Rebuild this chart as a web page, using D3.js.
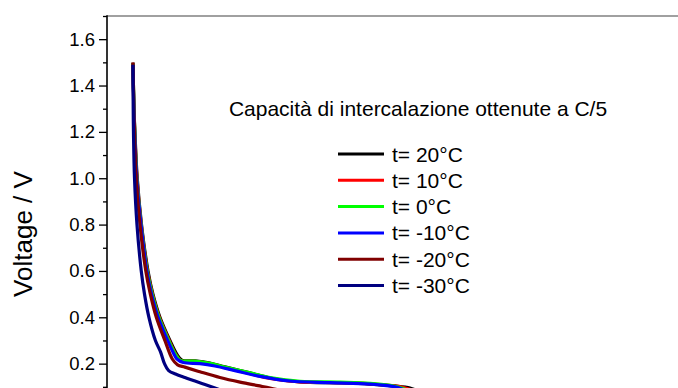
<!DOCTYPE html>
<html>
<head>
<meta charset="utf-8">
<script src="https://cdn.jsdelivr.net/npm/d3@7"></script>
<style>
  body { margin: 0; background: #fff; }
  svg { display: block; font-family: Arial, "Liberation Sans", sans-serif; }
</style>
</head>
<body>
<div id="chart"></div>
<script>
// chart data (capacity in mAh/g, voltage in V)
const labels = ["t= 20°C", "t= 10°C", "t= 0°C", "t= -10°C", "t= -20°C", "t= -30°C"];
const colors = ["#000000", "#ff0000", "#00ff00", "#0000ff", "#800000", "#000080"];

const cap20 = [0, 0.8, 1.5, 3.3, 6.6, 11.6, 15.4, 20.8, 28.5, 33.9, 37.7, 47.8, 59.3, 70.9, 90.2, 105.6, 128.7, 159.5, 182.6, 201.9, 213.5, 221];
const volt20 = [1.498, 1.3, 1.2, 1.0, 0.8, 0.6, 0.5, 0.4, 0.3, 0.24, 0.215, 0.212, 0.203, 0.186, 0.160, 0.138, 0.121, 0.117, 0.112, 0.104, 0.095, 0.078];

const cap10 = [0, 0.8, 1.4, 3.1, 6.4, 11.2, 15, 20.3, 27.9, 33, 37, 47.8, 59.3, 70.9, 90.2, 105.6, 128.7, 159.5, 182.6, 200, 210, 218];
const volt10 = [1.495, 1.3, 1.2, 1.0, 0.8, 0.6, 0.5, 0.4, 0.3, 0.24, 0.213, 0.21, 0.2, 0.183, 0.157, 0.136, 0.121, 0.118, 0.113, 0.105, 0.095, 0.08];

const cap0 = [0, 0.8, 1.4, 3.0, 6.3, 11, 14.8, 20, 27.5, 32.7, 36.6, 47.8, 59.3, 70.9, 90.2, 105.6, 128.7, 159.5, 182.6, 198, 207, 214];
const volt0 = [1.495, 1.3, 1.2, 1.0, 0.8, 0.6, 0.5, 0.4, 0.3, 0.24, 0.214, 0.211, 0.201, 0.185, 0.16, 0.14, 0.124, 0.12, 0.115, 0.106, 0.095, 0.08];

const capm10 = [0, 0.7, 1.3, 2.9, 6.2, 10.7, 14.3, 19.4, 26.7, 31.7, 33.9, 38.8, 51.6, 63.2, 78.6, 97.9, 121, 151.8, 182.6, 201.9, 209.6];
const voltm10 = [1.49, 1.3, 1.2, 1.0, 0.8, 0.6, 0.5, 0.4, 0.3, 0.24, 0.22, 0.205, 0.2, 0.19, 0.17, 0.145, 0.125, 0.118, 0.112, 0.1, 0.085];

const capm20 = [0, 0.6, 1.1, 2.5, 5.4, 9.9, 13.4, 18, 24.6, 30.3, 34.4, 40, 51.6, 67, 82.5, 96.3, 105.6, 117];
const voltm20 = [1.5, 1.3, 1.2, 1.0, 0.8, 0.6, 0.5, 0.4, 0.3, 0.22, 0.195, 0.185, 0.165, 0.14, 0.12, 0.105, 0.095, 0.08];

const capm30 = [0, 0.2, 0.4, 1.2, 3.1, 6.4, 8.9, 12.3, 17.3, 21.3, 24.3, 27.5, 32.8, 40, 47.8, 55.5, 63.2, 70.9];
const voltm30 = [1.49, 1.3, 1.2, 1.0, 0.8, 0.6, 0.5, 0.4, 0.3, 0.25, 0.2, 0.17, 0.155, 0.14, 0.125, 0.11, 0.095, 0.08];

const yMajor = [0.2, 0.4, 0.6, 0.8, 1.0, 1.2, 1.4, 1.6];
const yMinor = [0.1, 0.3, 0.5, 0.7, 0.9, 1.1, 1.3, 1.5, 1.7];

const titleText = "Capacità di intercalazione ottenute a C/5";
const yLabel = "Voltage / V";

// 1: SIZES
const W = 678, H = 388;
const margin = { top: 16, left: 107 };
const plotRight = 700, plotBottom = 410;

const svg = d3.select("#chart")
  .append("svg")
  .attr("width", W)
  .attr("height", H);

// 2: SCALES
const xScale = d3.scaleLinear().domain([-20, 420]).range([margin.left, 678]);
const yScale = d3.scaleLinear().domain([0, 1.7]).range([plotBottom, margin.top]);

// 3: CURVES
const series = [
  [cap20, volt20], [cap10, volt10], [cap0, volt0],
  [capm10, voltm10], [capm20, voltm20], [capm30, voltm30]
].map(([c, v], i) => ({ color: colors[i], label: labels[i], pts: c.map((d, j) => [d, v[j]]) }));

svg.append("clipPath").attr("id", "clip")
  .append("rect")
  .attr("x", margin.left).attr("y", margin.top)
  .attr("width", plotRight - margin.left).attr("height", plotBottom - margin.top);

const line = d3.line()
  .x(d => xScale(d[0]))
  .y(d => yScale(d[1]))
  .curve(d3.curveCatmullRom.alpha(0.5));

svg.append("g").attr("clip-path", "url(#clip)")
  .selectAll("path")
  .data(series)
  .enter()
  .append("path")
  .attr("d", d => line(d.pts))
  .style("fill", "none")
  .style("stroke", d => d.color)
  .style("stroke-width", 3.2)
  .style("stroke-linejoin", "round");

// 4: AXES
svg.append("line")
  .attr("x1", margin.left).attr("x2", W)
  .attr("y1", margin.top).attr("y2", margin.top)
  .style("stroke", "#808080")
  .style("stroke-width", 1.5);

const yAxis = svg.append("g")
  .attr("transform", `translate(${margin.left},0)`)
  .call(d3.axisLeft(yScale)
    .tickValues(yMajor)
    .tickSize(8)
    .tickPadding(4)
    .tickFormat(d3.format(".1f")));
yAxis.select(".domain").remove();
yAxis.selectAll("line").style("stroke-width", 1.3);
yAxis.selectAll("text")
  .style("font-size", "18.5px")
  .style("font-family", "Arial, 'Liberation Sans', sans-serif")
  .style("fill", "#000");

svg.append("g")
  .attr("transform", `translate(${margin.left},0)`)
  .call(d3.axisLeft(yScale).tickValues(yMinor).tickSize(4).tickFormat(""))
  .call(g => g.select(".domain").remove())
  .selectAll("line").style("stroke-width", 1.3);

svg.append("line")
  .attr("x1", margin.left).attr("x2", margin.left)
  .attr("y1", margin.top - 0.7).attr("y2", plotBottom)
  .style("stroke", "#000")
  .style("stroke-width", 1.6);

// 5: LABELS
svg.append("text")
  .attr("transform", `translate(32, 234) rotate(-90)`)
  .attr("text-anchor", "middle")
  .style("font-size", "26px")
  .text(yLabel);

svg.append("text")
  .attr("x", 418)
  .attr("y", 116)
  .attr("text-anchor", "middle")
  .style("font-size", "21px")
  .text(titleText);

// 6: LEGEND
const legend = svg.selectAll(".legend")
  .data(series)
  .enter()
  .append("g")
  .attr("class", "legend")
  .attr("transform", (d, i) => `translate(338, ${154 + i * 26.3})`);

legend.append("line")
  .attr("x1", 0).attr("x2", 46)
  .style("stroke", d => d.color)
  .style("stroke-width", 3);

legend.append("text")
  .attr("x", 54)
  .attr("y", 7.5)
  .style("font-size", "21px")
  .text(d => d.label);
</script>
</body>
</html>
